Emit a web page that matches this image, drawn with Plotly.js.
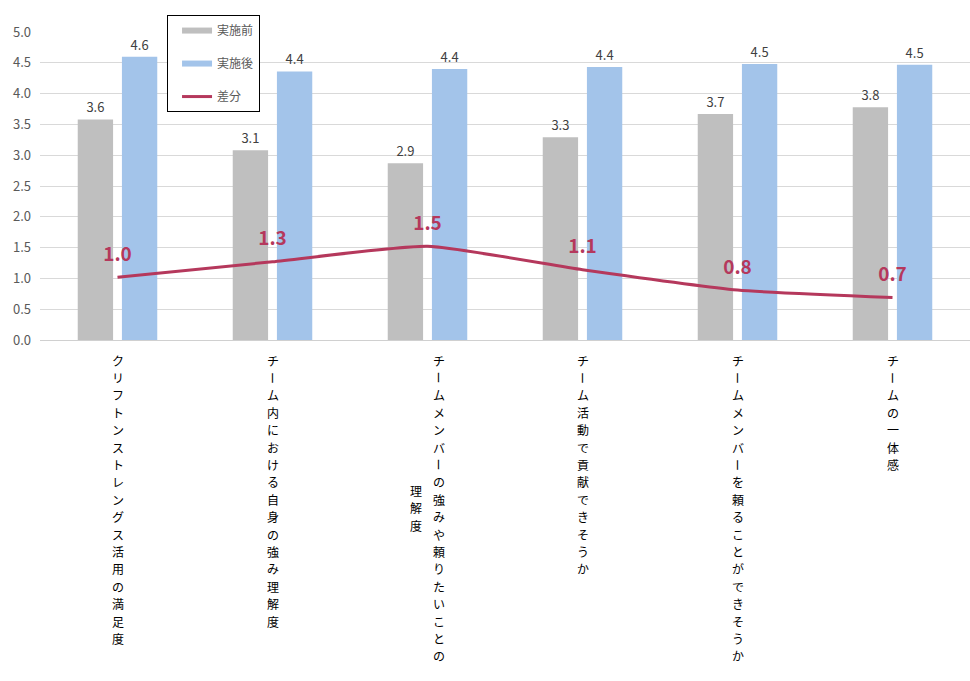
<!DOCTYPE html>
<html>
<head>
<meta charset="utf-8">
<script src="https://cdn.plot.ly/plotly-3.0.1.min.js"></script>
<style>
  html, body { margin: 0; padding: 0; background: #fff; }
  #chart { width: 970px; height: 681px; }
</style>
</head>
<body>
<div id="chart"></div>
<script>
// category labels, each split into vertical columns (right column first)
const categoryLines = [
    ['クリフトンストレングス活用の満足度'],
    ['チーム内における自身の強み理解度'],
    ['チームメンバーの強みや頼りたいことの', '理解度'],
    ['チーム活動で貢献できそうか'],
    ['チームメンバーを頼ることができそうか'],
    ['チームの一体感']
];
const categories = categoryLines.map(lines => lines.join(''));

const beforeValues = [3.58, 3.08, 2.87, 3.29, 3.67, 3.78];
const afterValues = [4.60, 4.36, 4.40, 4.43, 4.48, 4.47];
const diffValues = [1.02, 1.27, 1.52, 1.14, 0.81, 0.69];

const yTicks = [0, 0.5, 1, 1.5, 2, 2.5, 3, 3.5, 4, 4.5, 5];

const GRAY = '#bfbfbf';
const BLUE = '#a3c4ea';
const RED = '#b5385c';
const TEXT = '#595959';
const FONT = '"Noto Sans CJK JP", "Noto Sans", sans-serif';

// vertical (tategaki) label metrics
const labelSize = 12;
const pitch = 17.4;
const labelTop = 20;   // px below the x axis to the first glyph centre
const columnGap = 23;
const ROTATED = new Set(['ー']);

const traces = [
    {
        type: 'bar', name: '実施前', x: categories, y: beforeValues,
        marker: { color: GRAY }, showlegend: false,
        texttemplate: '%{y:.1f}', textposition: 'outside', cliponaxis: false,
        textfont: { family: FONT, size: 13, color: '#404040' },
        hoverinfo: 'skip'
    },
    {
        type: 'bar', name: '実施後', x: categories, y: afterValues,
        marker: { color: BLUE }, showlegend: false,
        texttemplate: '%{y:.1f}', textposition: 'outside', cliponaxis: false,
        textfont: { family: FONT, size: 13, color: '#404040' },
        hoverinfo: 'skip'
    },
    {
        type: 'scatter', name: '差分', x: categories, y: diffValues,
        mode: 'lines+markers+text', showlegend: false,
        line: { color: RED, width: 3, shape: 'spline', smoothing: 0.5 },
        marker: { size: 17, color: 'rgba(0,0,0,0)' },
        texttemplate: '%{y:.1f}', textposition: 'top center', cliponaxis: false,
        textfont: { family: FONT, size: 19, color: RED, weight: 'bold' },
        hoverinfo: 'skip'
    }
];

// legend entries drawn as thick line swatches
[['実施前', GRAY, 6], ['実施後', BLUE, 6], ['差分', RED, 3]].forEach(([name, color, w]) => {
    traces.push({
        type: 'scatter', name: name, x: [null], y: [null], mode: 'lines',
        line: { color: color, width: w }, legendgroup: name, hoverinfo: 'skip'
    });
});

// one annotation per glyph so the labels read top to bottom
const annotations = [];
categoryLines.forEach((lines, i) => {
    const maxLen = Math.max(...lines.map(l => [...l].length));
    lines.forEach((line, j) => {
        const chars = [...line];
        const offset = (maxLen - chars.length) / 2 * pitch;
        chars.forEach((ch, k) => {
            annotations.push({
                xref: 'x', yref: 'paper', x: categories[i], y: 0,
                xanchor: 'center', yanchor: 'middle',
                xshift: -(j - (lines.length - 1) / 2) * columnGap,
                yshift: -(labelTop + offset + k * pitch),
                text: ch, showarrow: false, borderpad: 0,
                textangle: ROTATED.has(ch) ? 90 : 0,
                font: { family: FONT, size: labelSize, color: '#000000' }
            });
        });
    });
});

const layout = {
    width: 970,
    height: 681,
    margin: { l: 40, r: 0, t: 32, b: 341 },
    paper_bgcolor: '#ffffff',
    plot_bgcolor: '#ffffff',
    font: { family: FONT, color: TEXT },
    barmode: 'group',
    bargap: 0.43,
    bargroupgap: 0.2,
    xaxis: {
        type: 'category',
        showticklabels: false,
        showgrid: false,
        showline: false,
        ticks: ''
    },
    yaxis: {
        range: [0, 5],
        tickvals: yTicks,
        tickformat: '.1f',
        tickfont: { family: FONT, size: 13, color: TEXT },
        gridcolor: '#d9d9d9',
        zeroline: true,
        zerolinecolor: '#d0d0d0',
        zerolinewidth: 1,
        showline: false,
        ticklabelstandoff: 8,
        fixedrange: true
    },
    legend: {
        x: 0.1366, y: 1.055, xanchor: 'left', yanchor: 'top',
        bgcolor: '#ffffff', bordercolor: '#000000', borderwidth: 1,
        font: { family: FONT, size: 12, color: TEXT },
        tracegroupgap: 14,
        traceorder: 'grouped',
        indentation: 9,
        entrywidth: 103,
        entrywidthmode: 'pixels'
    },
    annotations: annotations,
    showlegend: true
};

Plotly.newPlot('chart', traces, layout, { displayModeBar: false, staticPlot: true });
</script>
</body>
</html>
